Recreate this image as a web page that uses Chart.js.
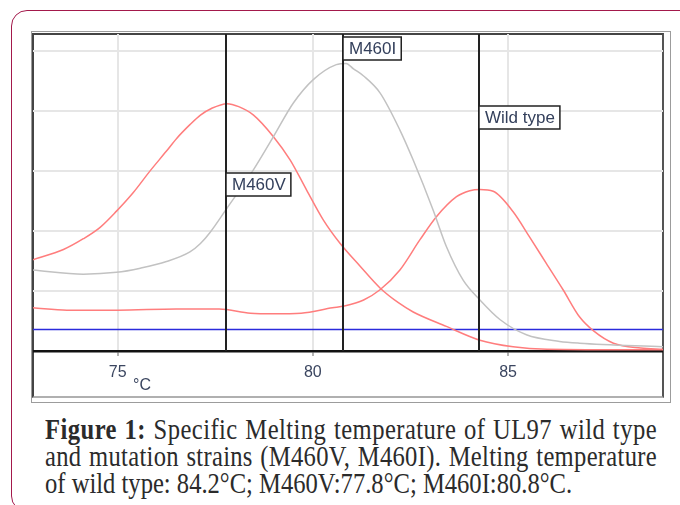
<!DOCTYPE html>
<html>
<head>
<meta charset="utf-8">
<script src="https://cdn.jsdelivr.net/npm/chart.js@4.4.1/dist/chart.umd.min.js"></script>
<style>
    body { margin: 0; background: #fff; width: 680px; height: 505px; overflow: hidden; position: relative; font-family: "Liberation Sans", Arial, sans-serif; }
    #card { position: absolute; left: 11px; top: 10px; width: 720px; height: 502px; border: 1.5px solid #a3194b; border-radius: 16px; box-sizing: border-box; }
    #outer { position: absolute; left: 31px; top: 31px; width: 640px; height: 372px; border: 1px solid #9c9c9c; box-sizing: border-box; }
    #inner { position: absolute; left: 32px; top: 33px; width: 632px; height: 365px; border: 2px solid #444; border-right-color: #555; border-bottom-color: #b0b0b0; box-sizing: border-box; }
    #wrap { position: absolute; left: 33px; top: 34px; width: 630px; height: 366px; }
    #unit { position: absolute; left: 133px; top: 376px; font-size: 16px; color: #3b4660; }
    #cap { position: absolute; left: 45px; top: 416px; width: 612px; font-family: "Liberation Serif", serif; font-size: 24.6px; line-height: 22.5px; color: #2b2b2b; transform: scaleY(1.2); transform-origin: 0 0; white-space: nowrap; }
    .j { text-align: justify; text-align-last: justify; }
    .l1 { letter-spacing: 0.45px; }
    .l2 { letter-spacing: 0.3px; }
</style>
</head>
<body>
<div id="card"></div>
<div id="outer"></div>
<div id="inner"></div>
<div id="wrap"><canvas id="melt" width="630" height="366"></canvas></div>
<div id="unit">°C</div>
<div id="cap">
    <div class="j l1"><b>Figure 1:</b> Specific Melting temperature of UL97 wild type</div>
    <div class="j l2">and mutation strains (M460V, M460I). Melting temperature</div>
    <div>of wild type: 84.2°C; M460V:77.8°C; M460I:80.8°C.</div>
</div>
<script>
    // axis range
    const xMin = 72.83, xMax = 88.97;
    const xTicks = [75, 80, 85];
    const yGrid = [1, 2, 3, 4, 5];
    const yMax = 5.28;

    // M460V curve (red, peak 77.8)
    const m460vTemp = [72.83, 73.61, 74.12, 74.55, 74.97, 75.4, 75.83, 76.25, 76.51, 76.85, 77.12, 77.4, 77.8, 78.1, 78.48, 78.99, 79.42, 79.84, 80.27, 80.7, 81.2, 81.72, 82.2, 82.57, 83.42, 84.28, 85.13, 86.0, 88.97];
    const m460vFluor = [1.52, 1.69, 1.87, 2.06, 2.33, 2.64, 3.0, 3.33, 3.54, 3.77, 3.93, 4.04, 4.12, 4.07, 3.93, 3.57, 3.18, 2.68, 2.18, 1.79, 1.42, 1.05, 0.8, 0.65, 0.41, 0.18, 0.07, 0.03, 0.02];

    // M460I curve (grey, peak 80.8)
    const m460iTemp = [72.83, 74.12, 74.97, 75.58, 76.25, 76.85, 77.12, 77.36, 77.79, 78.48, 78.99, 79.5, 80.01, 80.6, 80.85, 81.04, 81.3, 81.72, 82.23, 82.57, 83.08, 83.42, 83.85, 84.28, 84.8, 85.47, 86.32, 86.83, 88.97];
    const m460iFluor = [1.35, 1.28, 1.31, 1.38, 1.49, 1.65, 1.79, 1.97, 2.37, 3.02, 3.57, 4.13, 4.52, 4.77, 4.79, 4.7, 4.58, 4.3, 3.68, 3.18, 2.35, 1.74, 1.18, 0.85, 0.52, 0.27, 0.16, 0.13, 0.07];

    // Wild type curve (red, peak 84.2)
    const wildTemp = [72.83, 73.7, 75.0, 76.5, 77.6, 78.4, 79.0, 79.7, 80.5, 80.8, 81.3, 81.72, 82.23, 82.74, 83.17, 83.68, 84.02, 84.28, 84.62, 85.13, 85.55, 85.98, 86.41, 86.83, 87.2, 87.7, 88.4, 88.97];
    const wildFluor = [0.72, 0.68, 0.68, 0.7, 0.7, 0.63, 0.62, 0.63, 0.72, 0.75, 0.85, 1.02, 1.35, 1.85, 2.24, 2.57, 2.67, 2.69, 2.66, 2.32, 1.9, 1.46, 1.02, 0.57, 0.33, 0.13, 0.05, 0.03];

    // threshold line
    const thresholdTemp = [xMin, xMax];
    const thresholdFluor = [0.36, 0.36];

    // melting peaks
    const meltTemps = [77.78, 80.77, 84.25];
    const meltLabels = ['M460V', 'M460I', 'Wild type'];
    const labelTops = [2.97, 5.23, 4.08];

    const toPts = (xs, ys) => xs.map((x, i) => ({ x: x, y: ys[i] }));

    // vertical Tm lines with labels
    const meltLines = {
        id: 'meltLines',
        afterDatasetsDraw(chart) {
            const { ctx, chartArea: a, scales: { x, y } } = chart;
            ctx.save();
            meltTemps.forEach((t, i) => {
                const px = Math.round(x.getPixelForValue(t));
                ctx.strokeStyle = '#222';
                ctx.lineWidth = 2;
                ctx.beginPath();
                ctx.moveTo(px, a.top);
                ctx.lineTo(px, a.bottom);
                ctx.stroke();

                ctx.font = '17px "Liberation Sans", Arial, sans-serif';
                const w = ctx.measureText(meltLabels[i]).width + 11;
                const top = Math.round(y.getPixelForValue(labelTops[i]));
                ctx.fillStyle = '#fff';
                ctx.fillRect(px, top, w, 23);
                ctx.lineWidth = 1.5;
                ctx.strokeRect(px, top, w, 23);
                ctx.fillStyle = '#34405c';
                ctx.textBaseline = 'middle';
                ctx.fillText(meltLabels[i], px + 6, top + 12.5);
            });
            ctx.restore();
        }
    };

    const lineStyle = { borderWidth: 1.5, pointRadius: 0, cubicInterpolationMode: 'monotone', fill: false };

    new Chart(document.getElementById('melt'), {
        type: 'line',
        data: {
            datasets: [
                { ...lineStyle, label: 'M460I', data: toPts(m460iTemp, m460iFluor), borderColor: '#c2c2c2' },
                { ...lineStyle, label: 'M460V', data: toPts(m460vTemp, m460vFluor), borderColor: '#ff7d7d' },
                { ...lineStyle, label: 'Wild type', data: toPts(wildTemp, wildFluor), borderColor: '#ff7d7d' },
                { ...lineStyle, label: 'Threshold', data: toPts(thresholdTemp, thresholdFluor), borderColor: '#2b2bdc' }
            ]
        },
        options: {
            responsive: false,
            animation: false,
            plugins: { legend: { display: false }, tooltip: { enabled: false } },
            scales: {
                x: {
                    type: 'linear',
                    min: xMin,
                    max: xMax,
                    afterBuildTicks: s => { s.ticks = xTicks.map(v => ({ value: v })); },
                    afterFit: s => { s.height = 49; },
                    grid: { color: '#e6e6e6', lineWidth: 2, tickColor: '#9a9a9a', tickLength: 5, tickWidth: 1.5 },
                    border: { color: '#111', width: 2.5 },
                    ticks: { font: { size: 16, family: '"Liberation Sans", Arial, sans-serif' }, color: '#3b4660', padding: 7, maxRotation: 0 }
                },
                y: {
                    min: 0,
                    max: yMax,
                    afterBuildTicks: s => { s.ticks = yGrid.map(v => ({ value: v })); },
                    ticks: { display: false },
                    grid: { color: '#e6e6e6', lineWidth: 2, drawTicks: false },
                    border: { display: false }
                }
            }
        },
        plugins: [meltLines]
    });
</script>
</body>
</html>
